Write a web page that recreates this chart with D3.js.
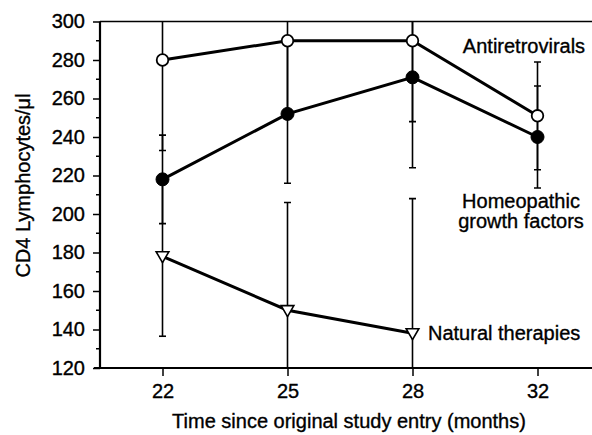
<!DOCTYPE html>
<html>
<head>
<meta charset="utf-8">
<script src="https://cdn.jsdelivr.net/npm/d3@7"></script>
<style>
  body { margin: 0; background: #fff; }
  svg text { font-family: "Liberation Sans", Arial, sans-serif; fill: #000; stroke: #000; stroke-width: 0.35px; }
</style>
</head>
<body>
<div class="chart"></div>
<script>
// data
var months = ["22", "25", "28", "32"];
var antiretro = [280, 290, 290, 251];
var antiretroErr = [47, 38, 42, 28];
var homeo = [218, 252, 271, 240];
var homeoErr = [23, 36, 47, 26.5];
var natural = [178, 150, 138, null];
var naturalErr = [41.5, 56, 70, null];
var yTicks = [120, 140, 160, 180, 200, 220, 240, 260, 280, 300];

var width = 592, height = 435;
var plotLeft = 100, plotTop = 21.5, plotBottom = 368, plotRight = 600;

var svg = d3.select(".chart").append("svg")
    .attr("width", width)
    .attr("height", height);

var x = d3.scalePoint().domain(months).range([plotLeft, plotRight]).padding(0.5);
var y = d3.scaleLinear().domain([120, 300]).range([plotBottom, plotTop]);

svg.append("clipPath").attr("id", "plot")
  .append("rect")
    .attr("x", plotLeft).attr("y", plotTop)
    .attr("width", plotRight - plotLeft).attr("height", plotBottom - plotTop);

/* ------- AXES -------*/
var yAxis = svg.append("g")
    .attr("transform", "translate(" + plotLeft + ",0)")
    .call(d3.axisLeft(y).tickValues(yTicks).tickSize(7).tickPadding(8));
yAxis.select(".domain").remove();
yAxis.selectAll("text").style("font-size", "20px");
yAxis.selectAll("line").attr("stroke-width", 1.5);

// minor ticks
svg.append("g").selectAll("line")
    .data(d3.range(130, 300, 20))
  .enter().append("line")
    .attr("x1", plotLeft - 4).attr("x2", plotLeft)
    .attr("y1", function (d) { return y(d); })
    .attr("y2", function (d) { return y(d); })
    .attr("stroke", "#000").attr("stroke-width", 1.5);

var xAxis = svg.append("g")
    .attr("transform", "translate(0," + plotBottom + ")")
    .call(d3.axisBottom(x).tickSize(8).tickPadding(8));
xAxis.select(".domain").remove();
xAxis.selectAll("text").style("font-size", "20px");
xAxis.selectAll("line").attr("stroke-width", 1.5);

svg.append("line")
    .attr("x1", plotLeft).attr("x2", plotRight).attr("y1", plotTop).attr("y2", plotTop)
    .attr("stroke", "#000").attr("stroke-width", 1.5);
svg.append("line")
    .attr("x1", plotLeft).attr("x2", plotLeft).attr("y1", plotTop).attr("y2", plotBottom + 1)
    .attr("stroke", "#000").attr("stroke-width", 2.2);
svg.append("line")
    .attr("x1", plotLeft - 6).attr("x2", plotRight).attr("y1", plotBottom).attr("y2", plotBottom)
    .attr("stroke", "#000").attr("stroke-width", 2.2);

/* ------- ERROR BARS -------*/
var series = [
  { vals: antiretro, err: antiretroErr, kind: "open" },
  { vals: homeo, err: homeoErr, kind: "filled" },
  { vals: natural, err: naturalErr, kind: "tri" }
];

var bars = svg.append("g").attr("clip-path", "url(#plot)");
series.forEach(function (s) {
  months.forEach(function (m, i) {
    if (s.vals[i] == null) return;
    var cx = x(m), lo = y(s.vals[i] - s.err[i]), hi = y(s.vals[i] + s.err[i]);
    bars.append("line")
        .attr("x1", cx).attr("x2", cx).attr("y1", lo).attr("y2", hi)
        .attr("stroke", "#000").attr("stroke-width", 1.6);
    [lo, hi].forEach(function (yy) {
      bars.append("line")
          .attr("x1", cx - 3.5).attr("x2", cx + 3.5).attr("y1", yy).attr("y2", yy)
          .attr("stroke", "#000").attr("stroke-width", 1.6);
    });
  });
});

/* ------- LINES -------*/
var line = d3.line()
    .defined(function (d) { return d.v != null; })
    .x(function (d) { return x(d.m); })
    .y(function (d) { return y(d.v); });

series.forEach(function (s) {
  var pts = months.map(function (m, i) { return { m: m, v: s.vals[i] }; });
  svg.append("path")
      .datum(pts)
      .attr("d", line)
      .attr("fill", "none")
      .attr("stroke", "#000")
      .attr("stroke-width", 3);
});

/* ------- MARKERS -------*/
var tri = d3.symbol().type(d3.symbolTriangle).size(70);
series.forEach(function (s) {
  months.forEach(function (m, i) {
    if (s.vals[i] == null) return;
    var cx = x(m), cy = y(s.vals[i]);
    if (s.kind === "tri") {
      svg.append("path")
          .attr("d", tri())
          .attr("transform", "translate(" + cx + "," + (cy - 1) + ") rotate(180)")
          .attr("fill", "#fff").attr("stroke", "#000").attr("stroke-width", 1.6);
    } else {
      svg.append("circle")
          .attr("cx", cx).attr("cy", cy).attr("r", s.kind === "open" ? 5.8 : 6.5)
          .attr("fill", s.kind === "open" ? "#fff" : "#000")
          .attr("stroke", "#000").attr("stroke-width", s.kind === "open" ? 1.8 : 1);
    }
  });
});

/* ------- TEXT -------*/
svg.append("text")
    .attr("transform", "translate(30,185.5) rotate(-90)")
    .attr("text-anchor", "middle")
    .style("font-size", "20px")
    .text("CD4 Lymphocytes/\u03bcl");

svg.append("text")
    .attr("x", 349).attr("y", 428)
    .attr("text-anchor", "middle")
    .style("font-size", "20px")
    .text("Time since original study entry (months)");

svg.append("text")
    .attr("x", 524).attr("y", 53)
    .attr("text-anchor", "middle")
    .style("font-size", "20px")
    .text("Antiretrovirals");

svg.append("text")
    .attr("x", 521).attr("y", 208)
    .attr("text-anchor", "middle")
    .style("font-size", "20px")
    .text("Homeopathic");
svg.append("text")
    .attr("x", 521).attr("y", 228)
    .attr("text-anchor", "middle")
    .style("font-size", "20px")
    .text("growth factors");

svg.append("text")
    .attr("x", 428).attr("y", 340)
    .style("font-size", "20px")
    .text("Natural therapies");
</script>
</body>
</html>
